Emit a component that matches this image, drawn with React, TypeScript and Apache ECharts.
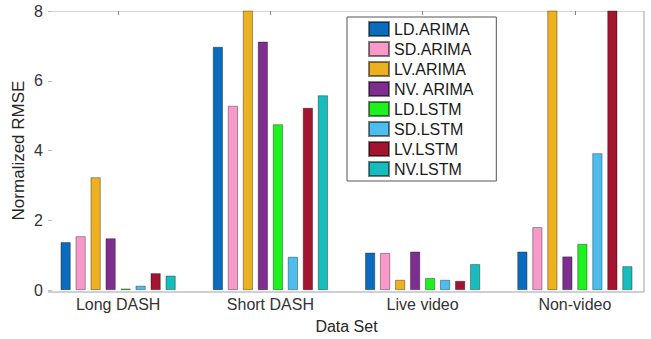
import React, { useEffect, useRef } from "react";
import * as echarts from "echarts";

const categories = ["Long DASH", "Short DASH", "Live video", "Non-video"];
const seriesNames = ["LD.ARIMA", "SD.ARIMA", "LV.ARIMA", "NV. ARIMA", "LD.LSTM", "SD.LSTM", "LV.LSTM", "NV.LSTM"];
const seriesColors = ["#0b6cbd", "#f799c9", "#edb021", "#7d2e8e", "#1ff01f", "#4dbdee", "#a2142f", "#17bdbd"];
// values per series, one per category (values above 8 are clipped by the axis)
const ldArima = [1.37, 6.97, 1.07, 1.1];
const sdArima = [1.54, 5.28, 1.06, 1.8];
const lvArima = [3.23, 9, 0.29, 9];
const nvArima = [1.48, 7.12, 1.1, 0.96];
const ldLstm = [0.04, 4.75, 0.34, 1.32];
const sdLstm = [0.12, 0.95, 0.29, 3.92];
const lvLstm = [0.48, 5.22, 0.26, 9];
const nvLstm = [0.41, 5.58, 0.74, 0.68];
const seriesValues = [ldArima, sdArima, lvArima, nvArima, ldLstm, sdLstm, lvLstm, nvLstm];
const yTicks = { min: 0, max: 8, interval: 2 };

const FONT = "Liberation Sans, Arial, sans-serif";

export default function App() {
  const ref = useRef<HTMLDivElement>(null);
  useEffect(() => {
    if (!ref.current) return;
    const chart = echarts.init(ref.current, null, { renderer: "svg" });
    chart.setOption({
      animation: false,
      backgroundColor: "#ffffff",
      textStyle: { fontFamily: FONT },
      grid: { left: 42, right: 0, top: 11, bottom: 47 },
      legend: {
        left: 347,
        top: 17,
        orient: "vertical",
        icon: "rect",
        itemWidth: 20,
        itemHeight: 14,
        itemGap: 4,
        padding: [4, 22, 4, 21],
        backgroundColor: "#ffffff",
        borderColor: "#555",
        borderWidth: 1,
        borderRadius: 0,
        textStyle: { fontSize: 16, color: "#1a1a1a", fontFamily: FONT, lineHeight: 16 },
        data: seriesNames,
      },
      xAxis: [
        {
          type: "category",
          data: categories,
          axisLine: { show: false },
          axisTick: { show: false },
          axisLabel: { fontSize: 16, color: "#333", margin: 6, fontFamily: FONT },
          name: "Data Set",
          nameLocation: "middle",
          nameGap: 28,
          nameMoveOverlap: false,
          nameTextStyle: { fontSize: 16, color: "#262626", fontFamily: FONT },
        },
        {
          type: "category",
          data: categories,
          position: "top",
          axisLine: { show: false },
          axisTick: { show: true, inside: true, alignWithLabel: true, length: 4, lineStyle: { color: "#888" } },
          axisLabel: { show: false },
        },
      ],
      yAxis: {
        type: "value",
        min: yTicks.min,
        max: yTicks.max,
        interval: yTicks.interval,
        offset: -6,
        axisLine: { show: false },
        axisTick: { show: true, inside: true, length: 4, lineStyle: { color: "#bbb" } },
        splitLine: { show: false },
        axisLabel: { fontSize: 16, color: "#333", margin: 5, fontFamily: FONT },
        name: "Normalized RMSE",
        nameLocation: "middle",
        nameGap: 21,
        nameMoveOverlap: false,
        nameTextStyle: { fontSize: 17, color: "#262626", fontFamily: FONT },
      },
      graphic: [
        { type: "line", shape: { x1: 48, y1: 11.5, x2: 644, y2: 11.5 }, style: { stroke: "#d4d4d4", lineWidth: 1 }, z: 0 },
        { type: "line", shape: { x1: 644, y1: 11, x2: 644, y2: 292 }, style: { stroke: "#a0a0a0", lineWidth: 1 }, z: 0 },
        { type: "line", shape: { x1: 48, y1: 292, x2: 644, y2: 292 }, style: { stroke: "#9aa3ad", lineWidth: 1 }, z: 0 },
      ],
      series: seriesNames.map((name, i) => ({
        name,
        type: "bar",
        data: seriesValues[i],
        barWidth: 10,
        barGap: "50%",
        clip: true,
        itemStyle: { color: seriesColors[i], borderColor: "rgba(0,0,0,0.5)", borderWidth: 0.7 },
      })),
    });
    return () => chart.dispose();
  }, []);
  return <div ref={ref} style={{ position: "fixed", left: 0, top: 0, width: 651, height: 339 }} />;
}
